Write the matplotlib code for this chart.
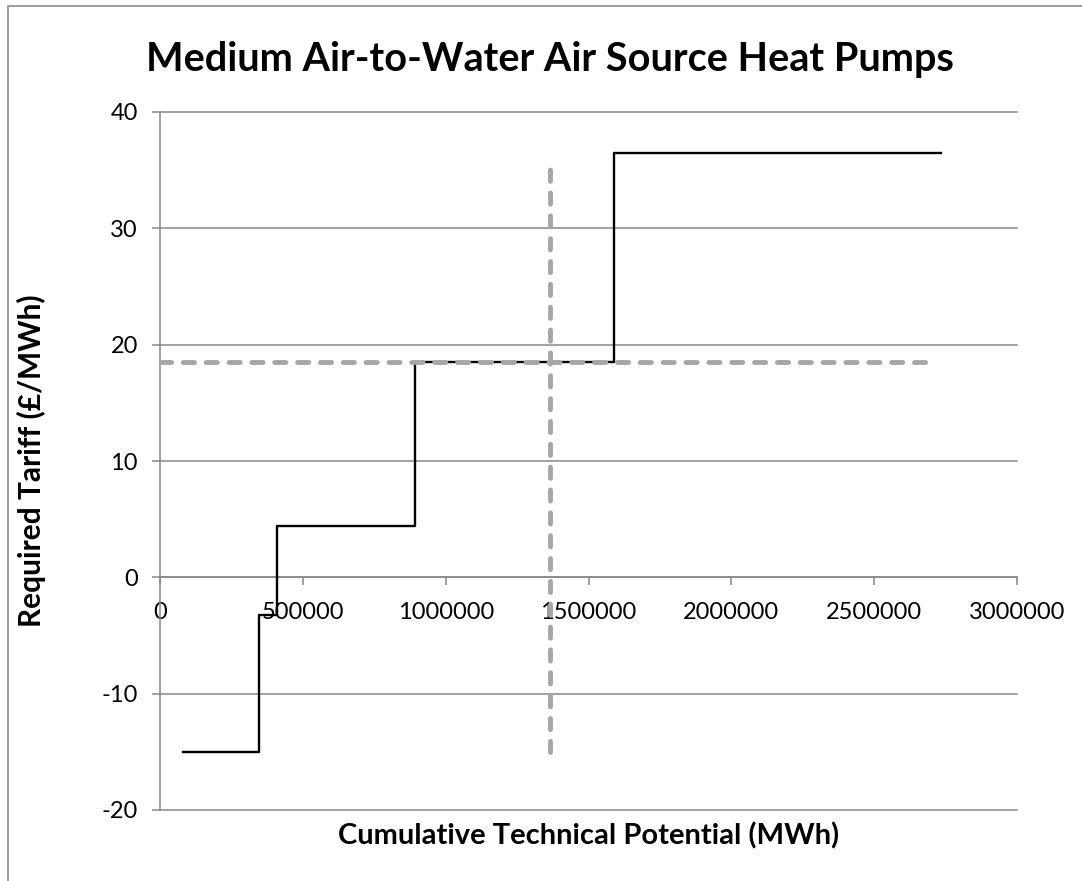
import matplotlib.pyplot as plt
from matplotlib.patches import Rectangle

plt.rcParams['font.family'] = ['Lato', 'DejaVu Sans']
plt.rcParams['axes.unicode_minus'] = False

# step curve: segment start points and tariff of each segment
potential = [80000, 348000, 411000, 892000, 1590000, 2735000]
tariff = [-15, -3.2, 4.4, 18.5, 36.5]

# reference dashed lines
ref_tariff = 18.55
ref_tariff_x = [0, 2700000]
ref_potential = 1365000
ref_potential_y = [-15.0, 35.6]

x_ticks = [0, 500000, 1000000, 1500000, 2000000, 2500000, 3000000]
y_ticks = [-20, -10, 0, 10, 20, 30, 40]

grid_col = '#888888'
dash_col = '#a6a6a6'

fig = plt.figure(figsize=(10.82, 8.81), dpi=100)
ax = fig.add_axes([160 / 1082, 1 - 810 / 881, (1017 - 160) / 1082, (810 - 112) / 881])

# outer chart border (only top and left visible in the reference)
fig.patches.append(Rectangle((8 / 1082, -0.05), 1.1, 1 - 6 / 881 + 0.05,
                             transform=fig.transFigure, fill=False,
                             edgecolor='#8c8c8c', linewidth=1.2))

ax.set_xlim(0, 3000000)
ax.set_ylim(-20, 40)
ax.set_xticks(x_ticks)
ax.set_yticks(y_ticks)
ax.set_xticklabels([str(v) for v in x_ticks])

for y in y_ticks:
    ax.axhline(y, color=grid_col, linewidth=1.1, zorder=1, clip_on=False)

ax.step(potential, tariff + [tariff[-1]], where='post', color='black',
        linewidth=1.7, zorder=3)

h, = ax.plot(ref_tariff_x, [ref_tariff, ref_tariff], color=dash_col,
             linewidth=3.5, zorder=4, dashes=(2.3, 2.4))
v, = ax.plot([ref_potential, ref_potential], ref_potential_y, color=dash_col,
             linewidth=3.5, zorder=4, dashes=(2.3, 2.4))
for ln in (h, v):
    ln.set_dash_capstyle('round')

for s in ('top', 'right'):
    ax.spines[s].set_visible(False)
ax.spines['left'].set_color(grid_col)
ax.spines['left'].set_linewidth(1.1)
ax.spines['bottom'].set_position(('data', 0))
ax.spines['bottom'].set_color(grid_col)
ax.spines['bottom'].set_linewidth(1.1)

ax.tick_params(axis='y', direction='out', length=6, width=1.1, color=grid_col,
               labelsize=17, pad=10)
ax.tick_params(axis='x', direction='out', length=6, width=1.1, color=grid_col,
               labelsize=17, pad=12)

fig.text(550 / 1082, 1 - 60 / 881, 'Medium Air-to-Water Air Source Heat Pumps',
         fontsize=28.5, fontweight='bold', ha='center', va='center')
ax.set_xlabel('Cumulative Technical Potential (MWh)', fontsize=21,
              fontweight='bold')
ax.xaxis.set_label_coords(0.5, -0.017)
ax.set_ylabel('Required Tariff (£/MWh)', fontsize=21.5, fontweight='bold')
ax.yaxis.set_label_coords(-0.133, 0.5)

fig.savefig('out.png', dpi=100)
